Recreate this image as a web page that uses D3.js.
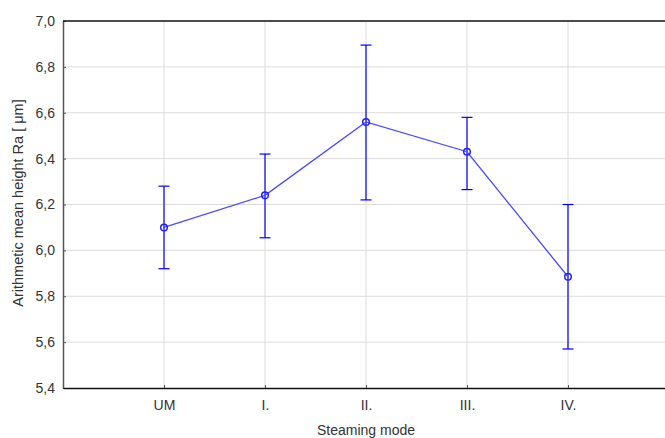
<!DOCTYPE html>
<html><head><meta charset="utf-8">
<script src="https://cdn.jsdelivr.net/npm/d3@7"></script>
<style>body{margin:0;background:#fff}svg{display:block}text{font-family:"Liberation Sans",Arial,sans-serif}</style>
</head><body>
<script>
const categories = ["UM", "I.", "II.", "III.", "IV."];
const means = [6.10, 6.24, 6.56, 6.43, 5.885];
const upper = [6.28, 6.42, 6.895, 6.58, 6.20];
const lower = [5.92, 6.055, 6.22, 6.265, 5.57];
const yTicks = [5.4, 5.6, 5.8, 6.0, 6.2, 6.4, 6.6, 6.8, 7.0];

const W = 665, H = 438;
const m = {left: 63, top: 21, right: -4, bottom: 50};
const svg = d3.select("body").append("svg").attr("width", W).attr("height", H);
const x = d3.scaleLinear().domain([0, categories.length + 1]).range([m.left, W - m.right]);
const y = d3.scaleLinear().domain([5.4, 7.0]).range([H - m.bottom, m.top]);
const fmt = d => d.toFixed(1).replace(".", ",");

// grid
svg.append("g").selectAll("line").data(yTicks.slice(1, -1)).join("line")
  .attr("x1", m.left).attr("x2", W).attr("y1", d => y(d)).attr("y2", d => y(d))
  .attr("stroke", "#dcdcdc").attr("stroke-width", 1);
svg.append("g").selectAll("line").data(categories).join("line")
  .attr("x1", (d, i) => x(i + 1)).attr("x2", (d, i) => x(i + 1))
  .attr("y1", m.top).attr("y2", H - m.bottom)
  .attr("stroke", "#dcdcdc").attr("stroke-width", 1);

// axes
const yAxis = d3.axisLeft(y).tickValues(yTicks).tickFormat(fmt).tickSizeInner(-3).tickSizeOuter(0).tickPadding(8);
const gy = svg.append("g").attr("transform", `translate(${m.left},0)`).call(yAxis);
gy.select(".domain").attr("stroke", "#555").attr("stroke-width", 1.5);
gy.selectAll(".tick line").attr("stroke", "#555");
gy.selectAll("text").attr("font-size", 14).attr("fill", "#333");

const xAxis = d3.axisBottom(x).tickValues(categories.map((d, i) => i + 1)).tickFormat(d => categories[d - 1]).tickSizeInner(-3).tickSizeOuter(0).tickPadding(12);
const gx = svg.append("g").attr("transform", `translate(0,${H - m.bottom})`).call(xAxis);
gx.select(".domain").attr("stroke", "#111").attr("stroke-width", 1.5);
gx.selectAll(".tick line").attr("stroke", "#555");
gx.selectAll("text").attr("font-size", 14).attr("fill", "#333");

// top border
svg.append("line").attr("x1", m.left).attr("x2", W).attr("y1", y(7.0)).attr("y2", y(7.0))
  .attr("stroke", "#111").attr("stroke-width", 1.5);

// error bars
const eb = svg.append("g").attr("stroke", "#0000ff").attr("stroke-width", 1.2);
categories.forEach((c, i) => {
  const cx = x(i + 1);
  eb.append("line").attr("x1", cx).attr("x2", cx).attr("y1", y(lower[i])).attr("y2", y(upper[i]));
  eb.append("line").attr("x1", cx - 5.5).attr("x2", cx + 5.5).attr("y1", y(lower[i])).attr("y2", y(lower[i]));
  eb.append("line").attr("x1", cx - 5.5).attr("x2", cx + 5.5).attr("y1", y(upper[i])).attr("y2", y(upper[i]));
});

// mean line
const line = d3.line().x((d, i) => x(i + 1)).y(d => y(d));
svg.append("path").datum(means).attr("d", line).attr("fill", "none")
  .attr("stroke", "#4a4aff").attr("stroke-width", 1.3);
svg.append("g").selectAll("circle").data(means).join("circle")
  .attr("cx", (d, i) => x(i + 1)).attr("cy", d => y(d)).attr("r", 3.3)
  .attr("fill", "none").attr("stroke", "#2222ff").attr("stroke-width", 1.5);

// titles
svg.append("text").attr("x", x(3)).attr("y", 435).attr("text-anchor", "middle")
  .attr("font-size", 14).attr("fill", "#333").text("Steaming mode");
svg.append("text").attr("transform", `translate(23,203) rotate(-90)`)
  .attr("text-anchor", "middle").attr("font-size", 14.5).attr("fill", "#333")
  .text("Arithmetic mean height Ra [ μm]");
</script>
</body></html>
